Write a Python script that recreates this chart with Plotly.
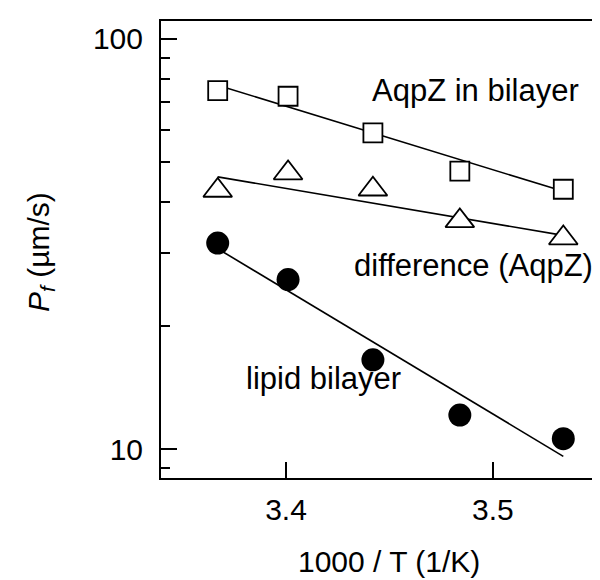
import plotly.graph_objects as go

# data
inv_T = [3.367, 3.401, 3.442, 3.484, 3.534]
pf_aqpz_bilayer = [74.8, 72.5, 59.0, 47.6, 43.0]
pf_difference = [42.7, 47.1, 43.0, 36.0, 32.7]
pf_lipid = [31.8, 25.9, 16.5, 12.1, 10.6]

# fitted lines (end points)
fit_x = [3.367, 3.534]
fit_aqpz_bilayer = [77.1, 42.5]
fit_difference = [46.1, 33.2]
fit_lipid = [30.8, 9.6]

y_major = [10, 100]
y_minor = [9, 20, 30, 40, 50, 60, 70, 80, 90]
x_ticks = [3.4, 3.5]

FONT = "Liberation Sans, Arial, Helvetica, sans-serif"
W, H = 600, 580
L, R, T, B = 153, 0, 13, 110
PW, PH = W - L - R, H - T - B


def px(x):
    return (x - L) / PW


def py(y):
    return (H - B - y) / PH


fig = go.Figure()
line_style = dict(color="black", width=1.6)
fig.add_trace(go.Scatter(x=fit_x, y=fit_aqpz_bilayer, mode="lines", line=line_style,
                         name="fit AqpZ in bilayer", hoverinfo="skip"))
fig.add_trace(go.Scatter(x=fit_x, y=fit_difference, mode="lines", line=line_style,
                         name="fit difference", hoverinfo="skip"))
fig.add_trace(go.Scatter(x=fit_x, y=fit_lipid, mode="lines", line=line_style,
                         name="fit lipid bilayer", hoverinfo="skip"))

fig.add_trace(go.Scatter(
    x=inv_T, y=pf_aqpz_bilayer, mode="markers", name="AqpZ in bilayer",
    marker=dict(symbol="square", size=19, color="white", line=dict(color="black", width=1.8))))
fig.add_trace(go.Scatter(
    x=inv_T, y=pf_difference, mode="markers", name="difference (AqpZ)",
    marker=dict(symbol="triangle-up", size=25, color="white", line=dict(color="black", width=1.8))))
fig.add_trace(go.Scatter(
    x=inv_T, y=pf_lipid, mode="markers", name="lipid bilayer",
    marker=dict(symbol="circle", size=23, color="black", line=dict(color="black", width=0))))

fig.update_layout(
    width=W, height=H,
    margin=dict(l=L, r=R, t=T, b=B, autoexpand=False),
    paper_bgcolor="white", plot_bgcolor="white",
    showlegend=False,
    font=dict(family=FONT, size=30, color="black"),
    xaxis=dict(
        range=[3.3396, 3.5556], showgrid=False, zeroline=False,
        showline=True, linecolor="black", linewidth=2, mirror=True,
        tickmode="array", tickvals=x_ticks, ticktext=[f"{v:.1f}" for v in x_ticks],
        ticks="inside", ticklen=16, tickwidth=2, tickcolor="black",
        ticklabelstandoff=4,
        tickfont=dict(family=FONT, size=30, color="black"),
    ),
    yaxis=dict(
        type="log", range=[0.9294, 2.0438], showgrid=False, zeroline=False,
        showline=True, linecolor="black", linewidth=2,
        tickmode="array", tickvals=y_major, ticktext=[str(v) for v in y_major],
        ticks="inside", ticklen=16, tickwidth=2, tickcolor="black",
        ticklabelstandoff=10,
        tickfont=dict(family=FONT, size=30, color="black"),
        minor=dict(tickvals=y_minor, ticks="inside", ticklen=9, tickwidth=2,
                   tickcolor="black", showgrid=False),
    ),
)

ann_font = dict(family=FONT, size=31, color="black")
fig.add_annotation(text="AqpZ in bilayer", xref="paper", yref="paper",
                   x=px(467.5), y=py(82), xanchor="center", yanchor="middle",
                   showarrow=False, font=ann_font)
fig.add_annotation(text="difference (AqpZ)", xref="paper", yref="paper",
                   x=px(465.8), y=py(257), xanchor="center", yanchor="middle",
                   showarrow=False, font=ann_font)
fig.add_annotation(text="lipid bilayer", xref="paper", yref="paper",
                   x=px(315), y=py(370), xanchor="center", yanchor="middle",
                   showarrow=False, font=ann_font)
fig.add_annotation(text="1000 / T (1/K)", xref="paper", yref="paper",
                   x=px(381), y=py(553), xanchor="center", yanchor="middle",
                   showarrow=False, font=dict(family=FONT, size=30, color="black"))
fig.add_annotation(text="<i>P</i><sub><i>f</i></sub> (µm/s)", xref="paper", yref="paper",
                   x=px(33), y=py(244), xanchor="center", yanchor="middle",
                   textangle=-90, showarrow=False,
                   font=dict(family=FONT, size=30, color="black"))

fig.write_html("out.html")
